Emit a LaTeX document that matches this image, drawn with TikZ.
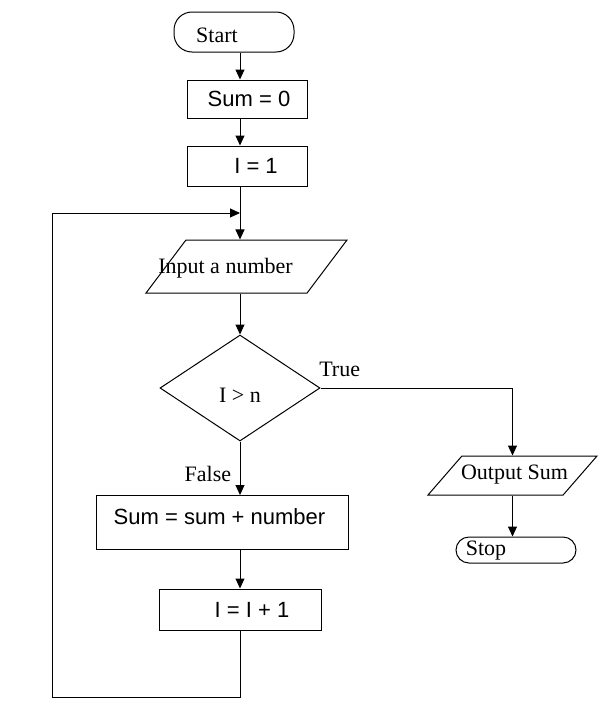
\documentclass[tikz,border=0pt]{standalone}
\usepackage{fontspec}
\setmainfont{Liberation Serif}
\newfontfamily\arialfont{Liberation Sans}
\usetikzlibrary{shapes.geometric,arrows.meta}

\tikzset{
    every node/.style = {font=\fontsize{22}{26}\selectfont},
    arial/.style = {font=\arialfont\fontsize{22}{26}\selectfont},
    base/.style = {draw, line width=1pt, inner sep=0pt},
    terminal/.style = {base, rectangle, rounded corners=18pt},
    process/.style = {base, rectangle},
    io/.style = {base, trapezium, trapezium stretches body, inner xsep=0pt},
    decision/.style = {base, diamond},
    arrow/.style = {line width=1pt, -{Triangle[length=10pt,width=9pt]}}
}

\begin{document}
\begin{tikzpicture}[x=1pt, y=-1pt]
    \useasboundingbox (0,0) rectangle (614,720);

    % Nodes
    \node[terminal, minimum width=120pt, minimum height=40pt,
        label={[xshift=-17pt,yshift=-3pt]center:Start}] (start) at (234,32) {};
    \node[process, minimum width=120pt, minimum height=38pt,
        label={[arial,xshift=2pt]center:Sum = 0}] (sumzero) at (247,99) {};
    \node[process, minimum width=120pt, minimum height=40pt,
        label={[arial,xshift=9pt]center:I = 1}] (ione) at (247,166) {};
    \node[io, trapezium left angle=53, trapezium right angle=127,
        inner ysep=26.5pt, minimum width=201pt,
        label={[xshift=-21pt,yshift=-2pt]center:Input a number}] (input) at (246.5,266.5) {};
    \node[decision, minimum width=160pt, minimum height=106pt,
        label={[yshift=-7pt]center:I > n}] (check) at (240,388) {};
    \node[process, minimum width=252pt, minimum height=54pt,
        label={[arial,xshift=-3pt,yshift=6pt]center:Sum = sum + number}] (addnum) at (222.5,522.5) {};
    \node[process, minimum width=162pt, minimum height=41pt,
        label={[arial,xshift=12pt]center:I = I + 1}] (incr) at (240,609.5) {};
    \node[io, trapezium left angle=49, trapezium right angle=131,
        inner ysep=19.5pt, minimum width=169pt,
        label={[xshift=2pt,yshift=1pt]center:Output Sum}] (output) at (512.5,475.5) {};
    \node[terminal, rounded corners=13pt, minimum width=120pt, minimum height=26pt,
        label={[xshift=-30pt,yshift=-1pt]center:Stop}] (stop) at (516,550) {};

    \coordinate (loopcorner) at (52,697);
    \coordinate (loopjoin) at (240,213);

    % Edges
    \draw[arrow] (start.south -| check) -- (sumzero.north -| check);
    \draw[arrow] (sumzero.south -| check) -- (ione.north -| check);
    \draw[arrow] (ione.south -| check) -- (input.north -| check);
    \draw[arrow] (input.south -| check) -- (check.north);
    \draw[arrow] (check.south) -- node[pos=0.6, left=5pt] {False} (addnum.north -| check);
    \draw[arrow] (addnum.south -| check) -- (incr.north);
    \draw[arrow] (check.east) -| node[pos=0.05, above=7pt] {True} (output.north);
    \draw[arrow] (output.south) -- (stop.north -| output.south);

    % Loop back
    \draw[arrow] (incr.south) |- (loopcorner) |- (loopjoin);
\end{tikzpicture}
\end{document}
